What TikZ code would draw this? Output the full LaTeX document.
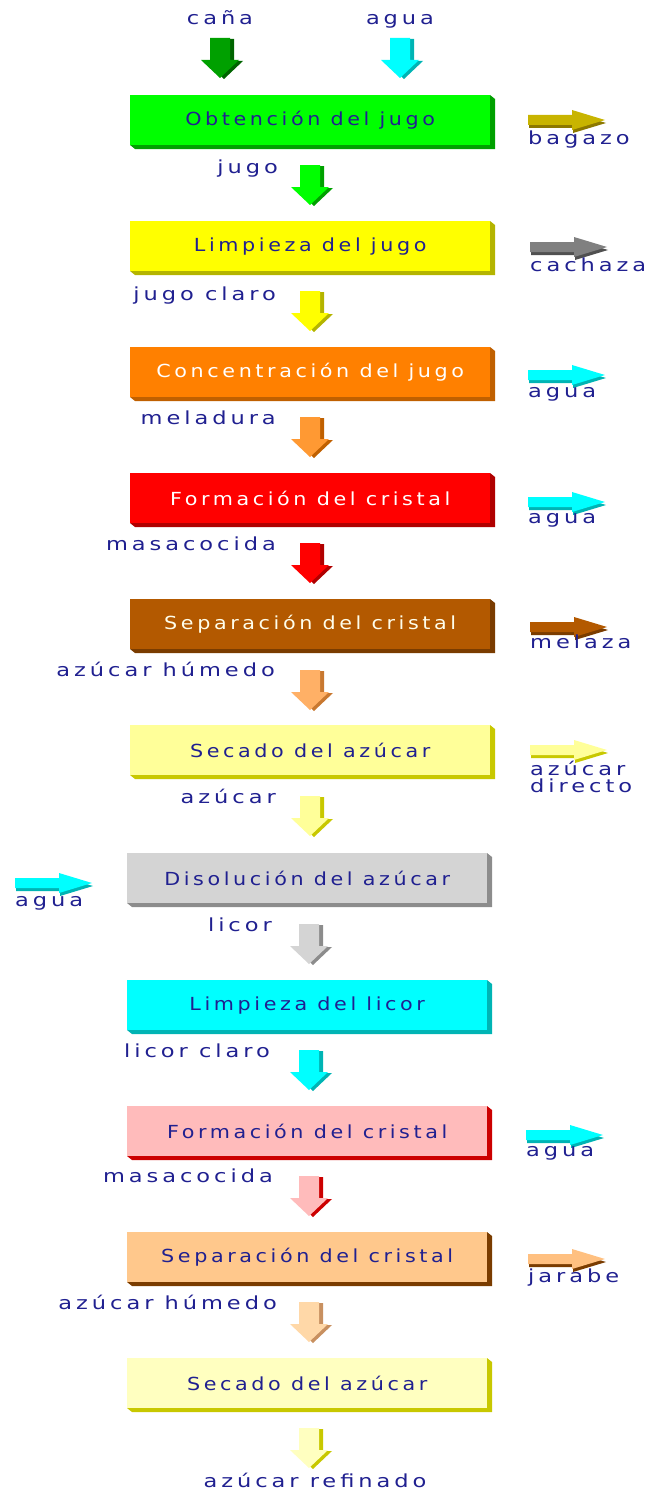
\documentclass[tikz,border=0pt]{standalone}
\usepackage{fontspec}
\setmainfont{DejaVu Sans}
\newfontfamily\labfont[FakeStretch=1.25,LetterSpace=22]{DejaVu Sans}
\newfontfamily\boxfont[FakeStretch=1.15,LetterSpace=20]{DejaVu Sans}
\definecolor{txt}{HTML}{202090}
\definecolor{gA}{HTML}{00FF00}\definecolor{gAd}{HTML}{00A000}
\definecolor{gC}{HTML}{00A000}\definecolor{gCd}{HTML}{006400}
\definecolor{yA}{HTML}{FFFF00}\definecolor{yAd}{HTML}{B4B400}
\definecolor{oA}{HTML}{FF8000}\definecolor{oAd}{HTML}{C06000}
\definecolor{oB}{HTML}{FF9933}
\definecolor{rA}{HTML}{FF0000}\definecolor{rAd}{HTML}{B00000}
\definecolor{bA}{HTML}{B35900}\definecolor{bAd}{HTML}{7A3C00}
\definecolor{lyA}{HTML}{FFFF99}\definecolor{lyAd}{HTML}{C8C800}
\definecolor{grA}{HTML}{D4D4D4}\definecolor{grAd}{HTML}{8C8C8C}
\definecolor{cA}{HTML}{00FFFF}\definecolor{cAd}{HTML}{00B4B4}
\definecolor{pA}{HTML}{FFBBBB}\definecolor{pAd}{HTML}{CC0000}
\definecolor{loA}{HTML}{FFC88C}
\definecolor{loB}{HTML}{FFB066}\definecolor{loBd}{HTML}{C87830}
\definecolor{peA}{HTML}{FFD8A8}\definecolor{peAd}{HTML}{C89060}
\definecolor{pyA}{HTML}{FFFFC0}
\definecolor{bgA}{HTML}{C8B400}\definecolor{bgAd}{HTML}{8C7800}
\definecolor{chA}{HTML}{808080}\definecolor{chAd}{HTML}{505050}
\definecolor{jaA}{HTML}{FFC080}
\tikzset{
  pbox/.style={inner sep=0pt, minimum width=360pt, minimum height=50pt, font=\boxfont\fontsize{18}{20}\selectfont},
  lbl/.style={inner sep=0pt, text=txt, font=\labfont\fontsize{18}{20}\selectfont},
}
\newcommand\procbox[7]{%
  \fill[#5] (#3+360,#2) -- (#3+365,#2+4) -- (#3+365,#2+54) -- (#3+5,#2+54) -- (#3,#2+50) -- cycle;
  \node[pbox, fill=#4, text=#6, anchor=north west] (#1) at (#3,#2) {#7};
}
\newcommand\downarr[5]{%
  \begin{scope}[shift={(#2,#3)}]
    \fill[#5, shift={(4,1)}] (-10,0) -- (10,0) -- (10,22) -- (19,22) -- (0,40) -- (-19,22) -- (-10,22) -- cycle;
    \fill[#4] (-10,0) -- (10,0) -- (10,22) -- (19,22) -- (0,40) -- (-19,22) -- (-10,22) -- cycle;
    \coordinate (#1) at (0,20);
  \end{scope}
}
\newcommand\sidearr[5]{%
  \begin{scope}[shift={(#2,#3)}]
    \fill[#5, shift={(1,3)}] (0,-5) -- (44,-5) -- (44,-10) -- (77,0) -- (44,10) -- (44,5) -- (0,5) -- cycle;
    \fill[#4] (0,-5) -- (44,-5) -- (44,-10) -- (77,0) -- (44,10) -- (44,5) -- (0,5) -- cycle;
    \coordinate (#1) at (38,0);
  \end{scope}
}
\begin{document}
\begin{tikzpicture}[x=1pt,y=-1pt]
\useasboundingbox (0,0) rectangle (656,1493);
% top inputs
\node[lbl, anchor=base] (tcana) at (220,25) {caña};
\node[lbl, anchor=base] (tagua) at (400,25) {agua};
\downarr{acana}{220}{38}{gC}{gCd}
\downarr{aagua}{400}{38}{cA}{cAd}
% boxes
\procbox{b1}{95}{130}{gA}{gAd}{txt}{Obtención del jugo}
\procbox{b2}{221}{130}{yA}{yAd}{txt}{Limpieza del jugo}
\procbox{b3}{347}{130}{oA}{oAd}{white}{Concentración del jugo}
\procbox{b4}{473}{130}{rA}{rAd}{white}{Formación del cristal}
\procbox{b5}{599}{130}{bA}{bAd}{white!92!yellow}{Separación del cristal}
\procbox{b6}{725}{130}{lyA}{lyAd}{txt}{Secado del azúcar}
\procbox{b7}{853}{127}{grA}{grAd}{txt}{Disolución del azúcar}
\procbox{b8}{980}{127}{cA}{cAd}{txt}{Limpieza del licor}
\procbox{b9}{1106}{127}{pA}{pAd}{txt}{Formación del cristal}
\procbox{b10}{1232}{127}{loA}{bAd}{txt}{Separación del cristal}
\procbox{b11}{1358}{127}{pyA}{lyAd}{txt}{Secado del azúcar}
% down arrows
\downarr{d1}{310}{165}{gA}{gAd}
\downarr{d2}{310}{291}{yA}{yAd}
\downarr{d3}{310}{417}{oB}{oAd}
\downarr{d4}{310}{543}{rA}{rAd}
\downarr{d5}{310}{670}{loB}{loBd}
\downarr{d6}{310}{796}{lyA}{lyAd}
\downarr{d7}{309}{924}{grA}{grAd}
\downarr{d8}{309}{1050}{cA}{cAd}
\downarr{d9}{309}{1176}{pA}{pAd}
\downarr{d10}{309}{1302}{peA}{peAd}
\downarr{d11}{309}{1428}{pyA}{lyAd}
% left labels
\node[lbl, anchor=base east] (l1) at (278,173) {jugo};
\node[lbl, anchor=base east] (l2) at (276,300) {jugo claro};
\node[lbl, anchor=base east] (l3) at (276,424) {meladura};
\node[lbl, anchor=base east] (l4) at (276,550) {masacocida};
\node[lbl, anchor=base east] (l5) at (275,676) {azúcar húmedo};
\node[lbl, anchor=base east] (l6) at (276,803) {azúcar};
\node[lbl, anchor=base east] (l7) at (272,931) {licor};
\node[lbl, anchor=base east] (l8) at (270,1057) {licor claro};
\node[lbl, anchor=base east] (l9) at (273,1182) {masacocida};
\node[lbl, anchor=base east] (l10) at (277,1309) {azúcar húmedo};
\node[lbl, anchor=base] (lend) at (315,1487) {azúcar refinado};
% side outputs
\sidearr{r1}{528}{120}{bgA}{bgAd}
\node[lbl, anchor=base west] (t1) at (528,145) {bagazo};
\sidearr{r2}{530}{247}{chA}{chAd}
\node[lbl, anchor=base west] (t2) at (530,271) {cachaza};
\sidearr{r3}{528}{375}{cA}{cAd}
\node[lbl, anchor=base west] (t3) at (528,397) {agua};
\sidearr{r4}{528}{502}{cA}{cAd}
\node[lbl, anchor=base west] (t4) at (528,523) {agua};
\sidearr{r5}{530}{627}{bA}{bAd}
\node[lbl, anchor=base west] (t5) at (530,648) {melaza};
\sidearr{r6}{530}{750}{lyA}{lyAd}
\node[lbl, anchor=base west, align=left, font=\labfont\fontsize{18}{17}\selectfont] (t6) at (530,792) {azúcar\\directo};
\sidearr{r7}{15}{883}{cA}{cAd}
\node[lbl, anchor=base west] (t7) at (15,906) {agua};
\sidearr{r8}{526}{1135}{cA}{cAd}
\node[lbl, anchor=base west] (t8) at (526,1156) {agua};
\sidearr{r9}{528}{1259}{jaA}{bAd}
\node[lbl, anchor=base west] (t9) at (528,1282) {jarabe};
\end{tikzpicture}
\end{document}
